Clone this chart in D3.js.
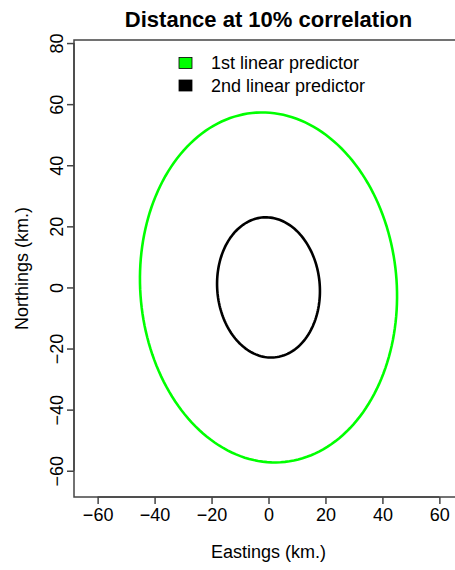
<!DOCTYPE html>
<html>
<head>
<meta charset="utf-8">
<script src="https://cdn.jsdelivr.net/npm/d3@7"></script>
<style>
  body { margin: 0; background: #fff; }
  text { font-family: "Liberation Sans", Arial, sans-serif; }
</style>
</head>
<body>
<svg id="chart"></svg>
<script>
// contour ellipses: centre, semi-axes (km) and tilt (degrees)
const seriesNames = ['1st linear predictor', '2nd linear predictor'];
const seriesColors = ['#00ff00', '#000000'];
const centreX = [0, 0];
const centreY = [0, 0];
const semiX = [45.0, 18.0];
const semiY = [57.4, 23.0];
const tiltDeg = [5.8, 6.0];

const xTicks = [-60, -40, -20, 0, 20, 40, 60];
const yTicks = [-60, -40, -20, 0, 20, 40, 60, 80];

const W = 455, H = 570;
const svg = d3.select('#chart').attr('width', W).attr('height', H);

const plot = { left: 74, right: 463, top: 40, bottom: 497 };

const x = d3.scaleLinear().domain([-68.3, 68.3]).range([plot.left, plot.right]);
const y = d3.scaleLinear().domain([-68.6, 81.0]).range([plot.bottom, plot.top]);

// title
svg.append('text')
  .attr('x', (plot.left + plot.right) / 2).attr('y', 27)
  .attr('text-anchor', 'middle')
  .style('font-size', '22px').style('font-weight', 'bold')
  .text('Distance at 10% correlation');

// ellipses
const angles = d3.range(0, 361, 2).map(d => d * Math.PI / 180);
const line = d3.line().x(d => x(d[0])).y(d => y(d[1]));

seriesNames.forEach((name, i) => {
  const th = tiltDeg[i] * Math.PI / 180;
  const pts = angles.map(t => {
    const ex = semiX[i] * Math.cos(t), ey = semiY[i] * Math.sin(t);
    return [centreX[i] + ex * Math.cos(th) - ey * Math.sin(th),
            centreY[i] + ex * Math.sin(th) + ey * Math.cos(th)];
  });
  svg.append('path')
    .attr('d', line(pts))
    .attr('fill', 'none')
    .attr('stroke', seriesColors[i])
    .attr('stroke-width', 2.6);
});

// box
svg.append('rect')
  .attr('x', plot.left).attr('y', plot.top)
  .attr('width', plot.right - plot.left).attr('height', plot.bottom - plot.top)
  .attr('fill', 'none').attr('stroke', '#444').attr('stroke-width', 1.5);

// x axis
const xAxis = svg.append('g')
  .attr('transform', `translate(0,${plot.bottom})`)
  .call(d3.axisBottom(x).tickValues(xTicks).tickSize(7).tickPadding(4).tickSizeOuter(0));
xAxis.select('.domain')
  .attr('d', `M${x(xTicks[0])},0H${x(xTicks[xTicks.length - 1])}`)
  .attr('stroke', '#444').attr('stroke-width', 1.5);
xAxis.selectAll('.tick line').attr('stroke', '#444').attr('stroke-width', 1.5);
xAxis.selectAll('.tick text')
  .style('font-size', '18px').attr('fill', '#000')
  .style('font-family', '"Liberation Sans", Arial, sans-serif');

// y axis
const yAxis = svg.append('g')
  .attr('transform', `translate(${plot.left},0)`)
  .call(d3.axisLeft(y).tickValues(yTicks).tickSize(7).tickSizeOuter(0));
yAxis.select('.domain')
  .attr('d', `M0,${y(yTicks[0])}V${y(yTicks[yTicks.length - 1])}`)
  .attr('stroke', '#444').attr('stroke-width', 1.5);
yAxis.selectAll('.tick line').attr('stroke', '#444').attr('stroke-width', 1.5);
yAxis.selectAll('.tick text')
  .attr('x', 0)
  .attr('text-anchor', 'middle')
  .attr('transform', 'translate(-11,0) rotate(-90)')
  .attr('dy', '0em')
  .style('font-size', '18px').attr('fill', '#000')
  .style('font-family', '"Liberation Sans", Arial, sans-serif');

// axis titles
svg.append('text')
  .attr('x', (plot.left + plot.right) / 2).attr('y', 558)
  .attr('text-anchor', 'middle').style('font-size', '18px')
  .text('Eastings (km.)');
svg.append('text')
  .attr('transform', `translate(28,${(plot.top + plot.bottom) / 2}) rotate(-90)`)
  .attr('text-anchor', 'middle').style('font-size', '18px')
  .text('Northings (km.)');

// legend
const legend = svg.append('g');
seriesNames.forEach((name, i) => {
  const ly = 63 + i * 22.5;
  legend.append('rect')
    .attr('x', 179).attr('y', ly - 5.5).attr('width', 13).attr('height', 11)
    .attr('fill', seriesColors[i]).attr('stroke', '#000').attr('stroke-width', 0.8);
  legend.append('text')
    .attr('x', 211).attr('y', ly).attr('dy', '0.35em')
    .style('font-size', '18px')
    .text(name);
});
</script>
</body>
</html>
